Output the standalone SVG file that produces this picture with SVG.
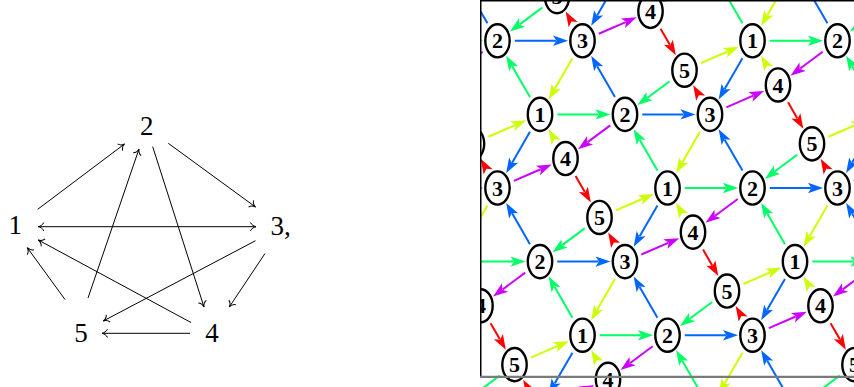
<svg xmlns="http://www.w3.org/2000/svg" xmlns:xlink="http://www.w3.org/1999/xlink" width="854" height="387" viewBox="0 0 854 387">
<style>
.lbl{font-family:"Liberation Serif","Times New Roman",serif;font-size:27px;fill:#000}
.la{fill:none;stroke:#000;stroke-width:1;marker-end:url(#to)}
.e{fill:none;stroke-width:2}
.y{stroke:#ccff00;fill:#ccff00}
.g{stroke:#00ff66;fill:#00ff66}
.b{stroke:#0066ff;fill:#0066ff}
.p{stroke:#cc00ff;fill:#cc00ff}
.r{stroke:#ff0000;fill:#ff0000}
use.y,use.g,use.b,use.p,use.r{stroke:none}
.nd ellipse{fill:#fff;stroke:#000;stroke-width:2.4}
.nd text{font-family:"Liberation Serif","Times New Roman",serif;font-weight:bold;font-size:22px;text-anchor:middle;fill:#000}
</style>
<defs>
<marker id="to" markerUnits="userSpaceOnUse" orient="auto-start-reverse" overflow="visible" markerWidth="10" markerHeight="10">
<path d="M-5.5,-4.2 C-4.6,-1.8 -1.6,-0.3 0,0 C-1.6,0.3 -4.6,1.8 -5.5,4.2" fill="none" stroke="#000" stroke-width="1"/>
</marker>
<path id="ah" d="M0,0 L-15,-5.2 L-11.5,0 L-15,5.2Z"/>
<clipPath id="frame"><rect x="480.5" y="0" width="374" height="387"/></clipPath>
<g id="cell">
<path class="e p" d="M-68.67,-7.07L-41.78,-18.71"/><use href="#ah" class="p" transform="translate(-30.77,-23.48) rotate(-23.41)"/>
<path class="e p" d="M27.72,-62.64L5.17,-45.89"/><use href="#ah" class="p" transform="translate(-4.47,-38.74) rotate(143.41)"/>
<use href="#ah" class="y" transform="translate(-33.85,-58.63) rotate(-120)"/>
<path class="e r" d="M-6.95,-12.03L2.35,4.07"/><use href="#ah" class="r" transform="translate(8.35,14.46) rotate(60)"/>
<path class="e y" d="M33.33,22.37L60.22,10.73"/><use href="#ah" class="y" transform="translate(71.23,5.96) rotate(-23.41)"/>
<path class="e g" d="M2.22,40.41L-20.33,57.16"/><use href="#ah" class="g" transform="translate(-29.97,64.31) rotate(143.41)"/>
<use href="#ah" class="r" transform="translate(25.65,44.42) rotate(-120)"/>
<path class="e g" d="M-25.2,-73.61L16,-73.61"/><use href="#ah" class="g" transform="translate(28,-73.61)"/>
<path class="e g" d="M-52.55,-91.02L-70.35,-121.85"/><use href="#ah" class="g" transform="translate(-76.35,-132.24) rotate(-120)"/>
<path class="e b" d="M-52.55,-56.2L-70.35,-25.37"/><use href="#ah" class="b" transform="translate(-76.35,-14.98) rotate(120)"/>
<path class="e y" d="M-10.05,-129.81L-27.85,-98.98"/><use href="#ah" class="y" transform="translate(-33.85,-88.59) rotate(120)"/>
<path class="e b" d="M59.8,-73.61L101,-73.61"/><use href="#ah" class="b" transform="translate(113,-73.61)"/>
<path class="e b" d="M32.45,-91.02L14.65,-121.85"/><use href="#ah" class="b" transform="translate(8.65,-132.24) rotate(-120)"/>
</g>
</defs>
<rect width="854" height="387" fill="#fff"/>

<!-- left graph -->
<g id="left-connectors">
<path class="la" d="M37.7,209.3L124.5,144"/>
<path class="la" d="M88,298L139,149"/>
<path class="la" d="M152.7,146.7L204,307"/>
<path class="la" d="M168.3,143.3L255.5,207"/>
<path class="la" d="M38.3,226.7L256,226.7" marker-start="url(#to)"/>
<path class="la" d="M191,322.5L38.3,240"/>
<path class="la" d="M65,299.5L27.3,247.7"/>
<path class="la" d="M255.5,240.7L103.3,321"/>
<path class="la" d="M265,253.5L229.3,307"/>
<path class="la" d="M190,333.3L102,333.3"/>
</g>
<g id="L1"><text class="lbl" x="15.3" y="234" text-anchor="middle">1</text></g>
<g id="L2"><text class="lbl" x="146.7" y="135" text-anchor="middle">2</text></g>
<g id="L3"><text class="lbl" x="270.5" y="235">3,</text></g>
<g id="L4"><text class="lbl" x="212" y="341.5" text-anchor="middle">4</text></g>
<g id="L5"><text class="lbl" x="81" y="341.5" text-anchor="middle">5</text></g>

<!-- tiling -->
<g id="connectors" clip-path="url(#frame)">
<use href="#cell" transform="translate(455,114.39)"/>
<use href="#cell" transform="translate(582.5,188)"/>
<use href="#cell" transform="translate(710,261.61)"/>
<use href="#cell" transform="translate(837.5,335.22)"/>
<use href="#cell" transform="translate(540,-32.83)"/>
<use href="#cell" transform="translate(667.5,40.78)"/>
<use href="#cell" transform="translate(795,114.39)"/>
<use href="#cell" transform="translate(922.5,188)"/>
<use href="#cell" transform="translate(880,-32.83)"/>
<use href="#cell" transform="translate(370,261.61)"/>
<use href="#cell" transform="translate(497.5,335.22)"/>
<use href="#cell" transform="translate(625,408.83)"/>
<use href="#cell" transform="translate(752.5,482.44)"/>
<use href="#cell" transform="translate(412.5,482.44)"/>
</g>
<g id="nodes" clip-path="url(#frame)">
<g id="t2a" class="nd" transform="translate(497.5,40.78)"><ellipse rx="12.2" ry="16.6"/><text y="7.6">2</text></g>
<g id="t3a" class="nd" transform="translate(582.5,40.78)"><ellipse rx="12.2" ry="16.6"/><text y="7.6">3</text></g>
<g id="t1a" class="nd" transform="translate(752.5,40.78)"><ellipse rx="12.2" ry="16.6"/><text y="7.6">1</text></g>
<g id="t2b" class="nd" transform="translate(837.5,40.78)"><ellipse rx="12.2" ry="16.6"/><text y="7.6">2</text></g>
<g id="t1b" class="nd" transform="translate(540,114.39)"><ellipse rx="12.2" ry="16.6"/><text y="7.6">1</text></g>
<g id="t2c" class="nd" transform="translate(625,114.39)"><ellipse rx="12.2" ry="16.6"/><text y="7.6">2</text></g>
<g id="t3b" class="nd" transform="translate(710,114.39)"><ellipse rx="12.2" ry="16.6"/><text y="7.6">3</text></g>
<g id="t3c" class="nd" transform="translate(497.5,188)"><ellipse rx="12.2" ry="16.6"/><text y="7.6">3</text></g>
<g id="t1c" class="nd" transform="translate(667.5,188)"><ellipse rx="12.2" ry="16.6"/><text y="7.6">1</text></g>
<g id="t2d" class="nd" transform="translate(752.5,188)"><ellipse rx="12.2" ry="16.6"/><text y="7.6">2</text></g>
<g id="t3d" class="nd" transform="translate(837.5,188)"><ellipse rx="12.2" ry="16.6"/><text y="7.6">3</text></g>
<g id="t2e" class="nd" transform="translate(540,261.61)"><ellipse rx="12.2" ry="16.6"/><text y="7.6">2</text></g>
<g id="t3e" class="nd" transform="translate(625,261.61)"><ellipse rx="12.2" ry="16.6"/><text y="7.6">3</text></g>
<g id="t1d" class="nd" transform="translate(795,261.61)"><ellipse rx="12.2" ry="16.6"/><text y="7.6">1</text></g>
<g id="t1e" class="nd" transform="translate(582.5,335.22)"><ellipse rx="12.2" ry="16.6"/><text y="7.6">1</text></g>
<g id="t2f" class="nd" transform="translate(667.5,335.22)"><ellipse rx="12.2" ry="16.6"/><text y="7.6">2</text></g>
<g id="t3f" class="nd" transform="translate(752.5,335.22)"><ellipse rx="12.2" ry="16.6"/><text y="7.6">3</text></g>
<g id="t4a" class="nd" transform="translate(650.5,11.34)"><ellipse rx="12.2" ry="16.6"/><text y="7.6">4</text></g>
<g id="t4b" class="nd" transform="translate(778,84.95)"><ellipse rx="12.2" ry="16.6"/><text y="7.6">4</text></g>
<g id="t4c" class="nd" transform="translate(565.5,158.56)"><ellipse rx="12.2" ry="16.6"/><text y="7.6">4</text></g>
<g id="t4d" class="nd" transform="translate(693,232.17)"><ellipse rx="12.2" ry="16.6"/><text y="7.6">4</text></g>
<g id="t4e" class="nd" transform="translate(820.5,305.78)"><ellipse rx="12.2" ry="16.6"/><text y="7.6">4</text></g>
<g id="t4f" class="nd" transform="translate(480.5,305.78)"><ellipse rx="12.2" ry="16.6"/><text y="7.6">4</text></g>
<g id="t4g" class="nd" transform="translate(608,379.39)"><ellipse rx="12.2" ry="16.6"/><text y="7.6">4</text></g>
<g id="t5a" class="nd" transform="translate(557,-3.39)"><ellipse rx="12.2" ry="16.6"/><text y="7.6">5</text></g>
<g id="t5b" class="nd" transform="translate(684.5,70.22)"><ellipse rx="12.2" ry="16.6"/><text y="7.6">5</text></g>
<g id="t5c" class="nd" transform="translate(812,143.83)"><ellipse rx="12.2" ry="16.6"/><text y="7.6">5</text></g>
<g id="t5d" class="nd" transform="translate(472,143.83)"><ellipse rx="12.2" ry="16.6"/><text y="7.6">5</text></g>
<g id="t5e" class="nd" transform="translate(599.5,217.44)"><ellipse rx="12.2" ry="16.6"/><text y="7.6">5</text></g>
<g id="t5f" class="nd" transform="translate(727,291.05)"><ellipse rx="12.2" ry="16.6"/><text y="7.6">5</text></g>
<g id="t5g" class="nd" transform="translate(514.5,364.66)"><ellipse rx="12.2" ry="16.6"/><text y="7.6">5</text></g>
<g id="t5h" class="nd" transform="translate(854.5,364.66)"><ellipse rx="12.2" ry="16.6"/><text y="7.6">5</text></g>
</g>
<g id="frame-lines">
<line x1="480" y1="0.75" x2="854" y2="0.75" stroke="#000" stroke-width="1.5"/>
<line x1="480.75" y1="0" x2="480.75" y2="377" stroke="#000" stroke-width="1.5"/>
<line x1="480" y1="376.8" x2="854" y2="376.8" stroke="#7a7a7a" stroke-width="2.2"/>
</g>
</svg>
